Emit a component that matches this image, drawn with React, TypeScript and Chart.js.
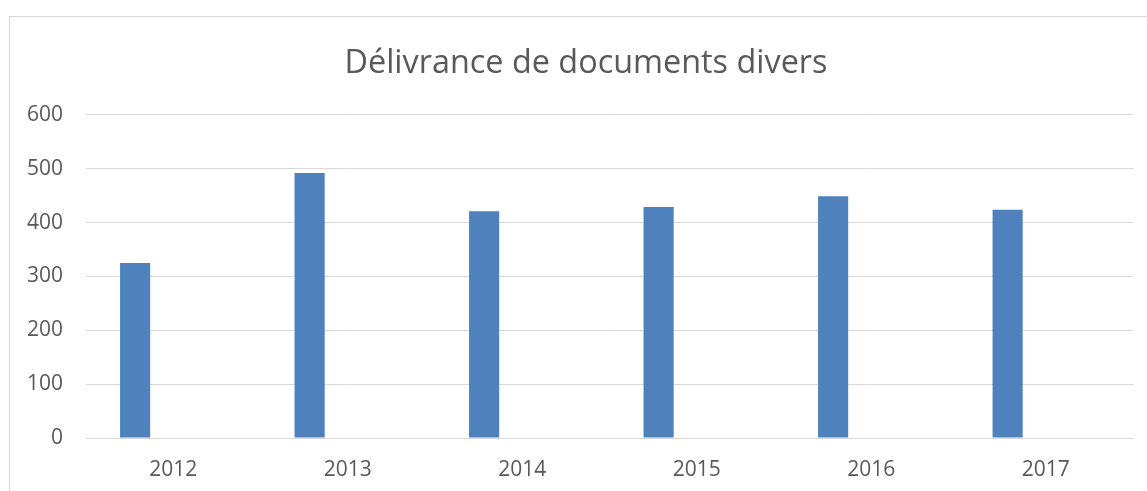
import React, { useEffect, useRef } from "react";
import { Chart, registerables } from "chart.js";

Chart.register(...registerables);

const categories = ["2012", "2013", "2014", "2015", "2016", "2017"];
const seriesValues = [325, 492, 421, 429, 449, 424];
const emptySeries = [null, null, null, null, null, null];
const chartTitle = "Délivrance de documents divers";

const FONT = "'Open Sans', 'DejaVu Sans', sans-serif";
const TEXT = "#595959";
const GRID = "#d9d9d9";

export default function App() {
  const ref = useRef<HTMLCanvasElement | null>(null);

  useEffect(() => {
    if (!ref.current) return;
    const chart = new Chart(ref.current, {
      type: "bar",
      data: {
        labels: categories,
        datasets: [
          {
            label: "Série 1",
            data: seriesValues,
            backgroundColor: "#4F81BD",
            borderWidth: 0,
            categoryPercentage: 0.874,
            barPercentage: 0.395,
          },
          {
            label: "Série 2",
            data: emptySeries as any,
            backgroundColor: "#C0504D",
            categoryPercentage: 0.874,
            barPercentage: 0.395,
          },
        ],
      },
      options: {
        responsive: false,
        animation: false,
        maintainAspectRatio: false,
        layout: { padding: { left: 0, right: 0, top: 0, bottom: 10 } },
        plugins: {
          legend: { display: false },
          tooltip: { enabled: false },
          title: {
            display: true,
            text: chartTitle,
            color: TEXT,
            font: { family: FONT, size: 32.4, weight: "normal" },
            padding: { top: 44, bottom: 32.1 },
          },
        },
        scales: {
          x: {
            afterFit: (scale: any) => {
              scale.height = 43;
            },
            grid: { display: false, drawTicks: false },
            border: { display: true, color: GRID, width: 1 },
            ticks: {
              color: TEXT,
              font: { family: FONT, size: 21 },
              padding: 19,
              maxRotation: 0,
            },
          },
          y: {
            min: 0,
            max: 600,
            afterFit: (scale: any) => {
              scale.width = 86;
            },
            grid: { color: GRID, lineWidth: 1, drawTicks: false },
            border: { display: false },
            ticks: {
              stepSize: 100,
              color: TEXT,
              font: { family: FONT, size: 21 },
              padding: 23,
            },
          },
          yRight: {
            position: "right",
            display: true,
            afterFit: (scale: any) => {
              scale.width = 39;
            },
            grid: { display: false, drawTicks: false },
            border: { display: false },
            ticks: { display: false },
          },
        },
      },
    });
    return () => chart.destroy();
  }, []);

  return (
    <div
      style={{
        position: "fixed",
        left: 0,
        top: 0,
        width: 1147,
        height: 491,
        background: "#ffffff",
        overflow: "hidden",
      }}
    >
      <div
        style={{
          position: "absolute",
          left: 9,
          top: 16,
          width: 1200,
          height: 600,
          border: "1px solid #d9d9d9",
        }}
      />
      <canvas
        ref={ref}
        width={1172}
        height={491}
        style={{ position: "absolute", left: 0, top: 0, width: 1172, height: 491 }}
      />
    </div>
  );
}
